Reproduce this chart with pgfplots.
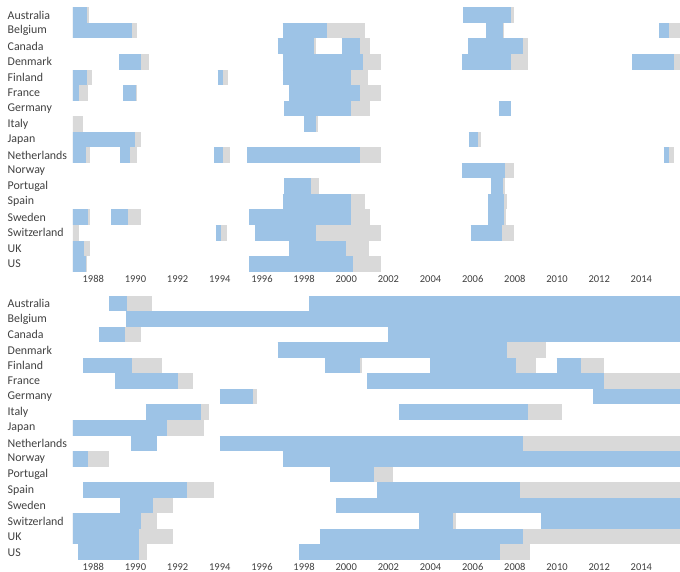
\documentclass[border=0pt]{standalone}
\usepackage{fontspec}
\setmainfont{Carlito}
\usepackage{pgfplots}
\usepackage{pgfplotstable}
\pgfplotsset{compat=1.18}
\definecolor{barblue}{HTML}{9DC3E6}
\definecolor{bargray}{HTML}{D9D9D9}
\definecolor{txt}{HTML}{404040}

% r = row (0 = Australia ... 16 = US), a = start, b = end of blue, g = end of grey
\pgfplotstableread{
r a b g
0 1987 1987.72 1987.78
0 2005.55 2007.80 2007.97
1 1987 1989.84 1990.07
1 1996.98 1999.10 2000.89
1 2006.63 2007.45 2007.48
1 2014.84 2015.31 2016.5
2 1996.75 1998.47 1998.56
2 1999.78 2000.65 2001.13
2 2005.79 2008.37 2008.64
3 1989.23 1990.25 1990.66
3 1996.98 2000.81 2001.63
3 2005.48 2007.81 2008.64
3 2013.57 2015.55 2016.5
4 1987 1987.72 1987.92
4 1993.90 1994.14 1994.40
4 1996.98 2000.22 2001.05
5 1987 1987.32 1987.76
5 1989.42 1990.03 1990.07
5 1997.30 2000.65 2001.63
6 1997.06 2000.22 2001.13
6 2007.25 2007.81 2007.81
7 1987 1987 1987.49
7 1997.99 1998.56 1998.64
8 1987 1989.98 1990.26
8 2005.82 2006.26 2006.38
9 1987 1987.65 1987.84
9 1989.27 1989.74 1990.09
9 1993.74 1994.14 1994.49
9 1995.31 2000.65 2001.63
9 2015.07 2015.31 2015.56
10 2005.48 2007.53 2007.97
11 1997.06 1998.31 1998.72
11 2006.85 2007.45 2007.55
12 1996.98 2000.22 2000.89
12 2006.74 2007.50 2007.61
13 1987 1987.76 1987.84
13 1988.84 1989.66 1990.26
13 1995.40 2000.22 2001.13
13 2006.74 2007.50 2007.58
14 1987 1987 1987.33
14 1993.82 1994.04 1994.33
14 1995.67 1998.56 2001.63
14 2005.90 2007.37 2007.97
15 1987 1987.57 1987.84
15 1997.30 1999.99 2001.10
16 1987 1987.65 1987.72
16 1995.40 2000.33 2001.63
}\toptable

\pgfplotstableread{
r a b g
0 1988.76 1989.58 1990.77
0 1998.25 2016.5 2016.5
1 1989.54 2016.5 2016.5
2 1988.27 1989.50 1990.26
2 2001.97 2016.5 2016.5
3 1996.75 2007.64 2009.48
4 1987.53 1989.85 1991.24
4 1998.99 2000.65 2000.73
4 2003.97 2008.05 2008.99
4 2009.98 2011.14 2012.23
5 1989.03 1992.03 1992.74
5 2001.00 2012.23 2016.5
6 1994.01 1995.59 1995.75
6 2011.72 2016.5 2016.5
7 1990.50 1993.09 1993.50
7 2002.50 2008.64 2010.22
8 1987 1991.51 1993.25
9 1989.77 1991.01 1991.01
9 1994.01 2008.40 2016.5
10 1987 1987.76 1988.76
10 1996.98 2016.5 2016.5
11 1999.23 2001.32 2002.23
12 1987.53 1992.43 1993.74
12 2001.47 2008.24 2016.5
13 1989.27 1990.82 1991.77
13 1999.51 2016.5 2016.5
14 1987 1990.25 1991.01
14 2003.47 2005.05 2005.21
14 2009.22 2016.5 2016.5
15 1987 1990.18 1991.77
15 1998.75 2008.40 2016.5
16 1987.29 1990.18 1990.53
16 1997.76 2007.29 2008.72
}\bottomtable

\pgfplotsset{
  segpanel/.style={
    scale only axis, width=607pt, height=264.4pt,
    xmin=1987.037, xmax=2015.834, ymin=-0.5, ymax=16.5, y dir=reverse,
    xtick={1988,1990,...,2014},
    ytick={0,...,16},
    yticklabels={Australia,Belgium,Canada,Denmark,Finland,France,Germany,Italy,Japan,Netherlands,Norway,Portugal,Spain,Sweden,Switzerland,UK,US},
    axis line style={draw=none}, tick style={draw=none},
    /pgf/number format/assume math mode=true,
    /pgf/number format/1000 sep={},
    x tick label style={font=\fontsize{10.5}{12}\selectfont, text=txt},
    y tick label style={font=\fontsize{11.9}{14}\selectfont, text=txt, anchor=west, inner sep=0pt, xshift=-65.5pt},
  },
  greyseg/.style={draw=none, mark=none, error bars/.cd, x dir=plus, x explicit, error mark=none,
    error bar style={line width=15.55pt, draw=bargray, solid}},
  blueseg/.style={draw=none, mark=none, error bars/.cd, x dir=plus, x explicit, error mark=none,
    error bar style={line width=15.55pt, draw=barblue, solid}},
}

\begin{document}
\begin{tikzpicture}
\begin{axis}[segpanel, at={(73pt,300.3pt)}, anchor=south west]
\addplot[greyseg] table[x=a, y=r, x error expr=\thisrow{g}-\thisrow{a}] {\toptable};
\addplot[blueseg] table[x=a, y=r, x error expr=\thisrow{b}-\thisrow{a}] {\toptable};
\end{axis}
\begin{axis}[segpanel, at={(73pt,12pt)}, anchor=south west]
\addplot[greyseg] table[x=a, y=r, x error expr=\thisrow{g}-\thisrow{a}] {\bottomtable};
\addplot[blueseg] table[x=a, y=r, x error expr=\thisrow{b}-\thisrow{a}] {\bottomtable};
\end{axis}
\pgfresetboundingbox
\path (0pt,0pt) rectangle (680pt,572pt);
\end{tikzpicture}
\end{document}
